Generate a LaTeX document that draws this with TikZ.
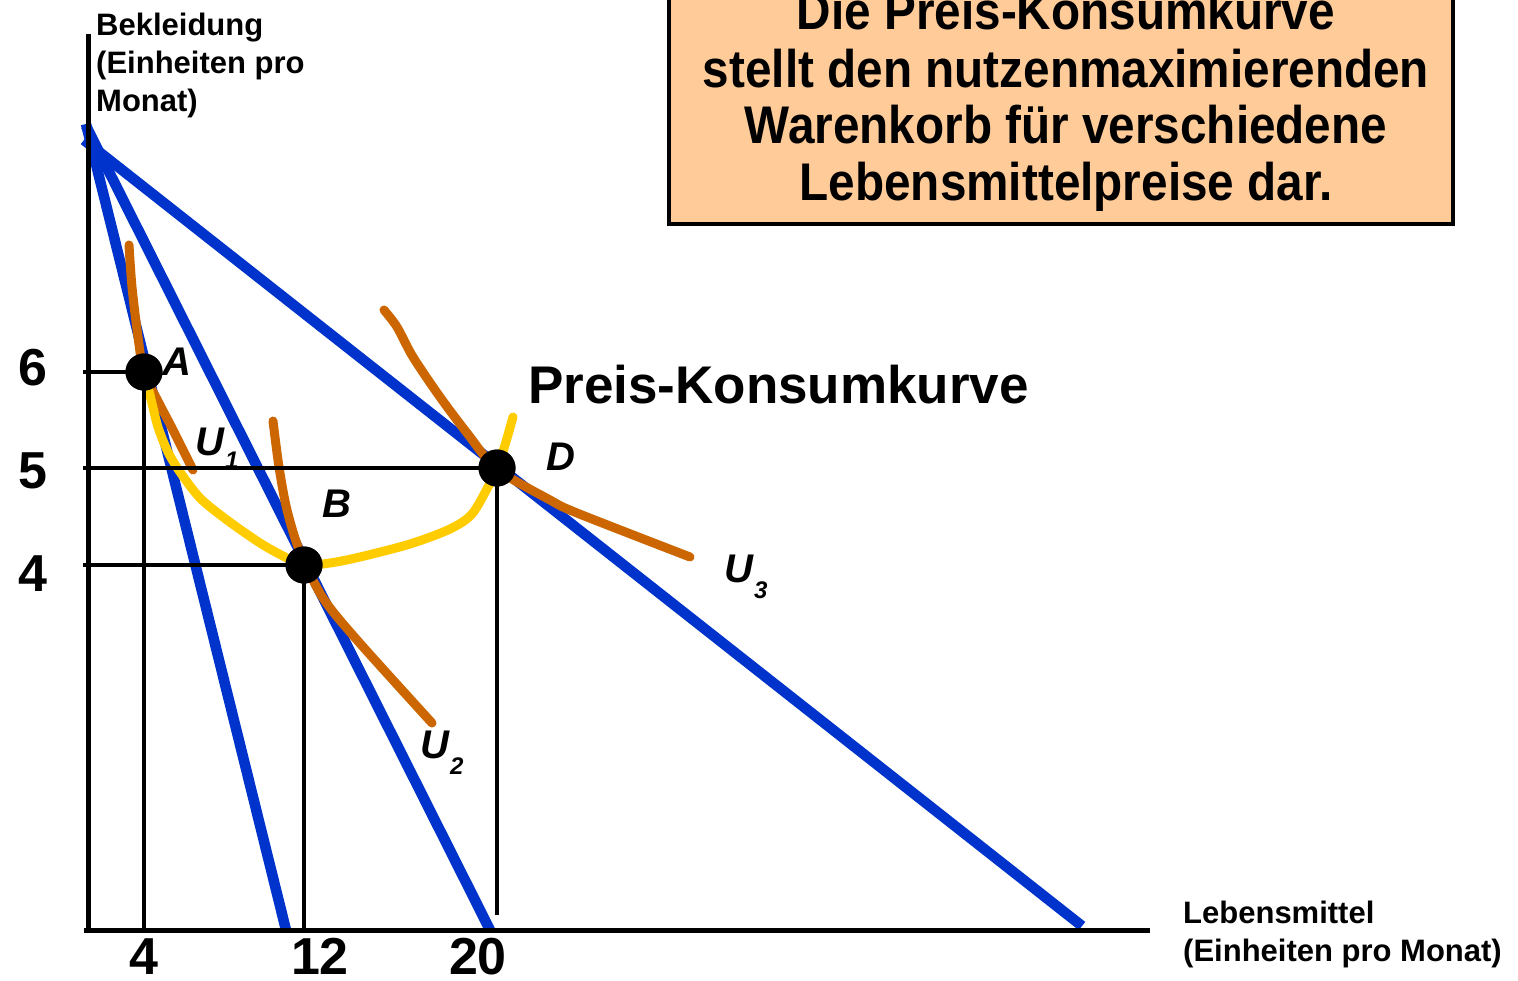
\documentclass[tikz,border=0pt]{standalone}
\usepackage{fontspec}
\setmainfont{Liberation Sans}
\newfontfamily\boxfont[FakeStretch=0.9]{Liberation Sans}
\definecolor{budgetblue}{HTML}{0033CC}
\definecolor{ucolor}{HTML}{CC6600}
\definecolor{pccyellow}{HTML}{FFCC00}
\definecolor{peach}{HTML}{FFCC99}
\begin{document}
\begin{tikzpicture}[x=1pt,y=-1pt,
  budget/.style={draw=budgetblue, line width=10.5pt},
  indiff/.style={draw=ucolor, line width=9pt, line cap=round, line join=round},
  pcc/.style={draw=pccyellow, line width=9pt, line cap=round, line join=round},
  axisline/.style={draw=black, line width=5pt},
  guide/.style={draw=black, line width=4pt},
  dot/.style={circle, fill=black, inner sep=0pt, minimum size=37pt},
  ticklbl/.style={font=\fontsize{52}{52}\selectfont\bfseries, inner sep=0pt},
  ptlbl/.style={font=\fontsize{40}{40}\selectfont\bfseries\itshape, inner sep=0pt},
  axlbl/.style={font=\fontsize{31}{31}\selectfont\bfseries, inner sep=0pt},
  boxtxt/.style={font=\boxfont\fontsize{53}{53}\selectfont\bfseries, inner sep=0pt},
  titletxt/.style={font=\fontsize{53}{53}\selectfont\bfseries, inner sep=0pt}
]
\useasboundingbox (0,0) rectangle (1518,980);
\clip (0,0) rectangle (1518,980);

% explanatory box
\draw[fill=peach, draw=black, line width=3.5pt] (669,-20) rectangle (1453,224);
\node[boxtxt, anchor=base] (t1) at (1066,29) {Die Preis-Konsumkurve};
\node[boxtxt, anchor=base] (t2) at (1066,87) {stellt den nutzenmaximierenden};
\node[boxtxt, anchor=base] (t3) at (1066,143) {Warenkorb für verschiedene};
\node[boxtxt, anchor=base] (t4) at (1066,200) {Lebensmittelpreise dar.};

% coordinates
\coordinate (ytop) at (88,34);
\coordinate (ybot) at (88,932);
\coordinate (xleft) at (84,930);
\coordinate (xright) at (1150,930);
\coordinate (b1s) at (86,124);
\coordinate (b1e) at (286,930);
\coordinate (b2s) at (86,126);
\coordinate (b2e) at (490,930);
\coordinate (b3s) at (84,140);
\coordinate (b3e) at (1082,926);

% budget lines
\draw[budget] (b1s) -- (b1e);
\draw[budget] (b2s) -- (b2e);
\draw[budget] (b3s) -- (b3e);

% indifference curves
\draw[indiff] plot[smooth, tension=0.5] coordinates {(129,245) (132,287) (138,337) (144,372) (160,405) (172,428) (193,470)};
\draw[indiff] plot[smooth, tension=0.5] coordinates {(273,421) (279,467) (287,510) (300,552) (323,598) (357,640) (432,723)};
\draw[indiff] plot[smooth, tension=0.5] coordinates {(384,310) (397,327) (413,357) (440,397) (467,433) (497,469) (550,500) (577,513) (690,557)};

% price-consumption curve
\draw[pcc] plot[smooth, tension=0.5] coordinates {(144,372) (150,395) (158,427) (168,452) (180,472) (200,498) (227,520) (260,543) (285,557) (304,565) (330,563) (360,557) (410,544) (450,529) (472,514) (489,485) (497,469) (505,445) (513,417)};

% axes
\draw[axisline] (ytop) -- (ybot);
\draw[axisline] (xleft) -- (xright);

% points
\node[dot] (A) at (144,372) {};
\node[dot] (B) at (304,565) {};
\node[dot] (D) at (497,468) {};

% guide lines
\coordinate (yA) at (83,372);
\coordinate (yD) at (83,468);
\coordinate (yB) at (83,565);
\coordinate (xA) at (144,930);
\coordinate (xB) at (304,930);
\coordinate (xD) at (497,915);
\draw[guide] (yA) -- (A.center);
\draw[guide] (yD) -- (D.center);
\draw[guide] (yB) -- (B.center);
\draw[guide] (xA) -- (A.center);
\draw[guide] (xB) -- (B.center);
\draw[guide] (xD) -- (D.center);
\node[dot] at (A) {};
\node[dot] at (B) {};
\node[dot] at (D) {};

% tick labels
\node[ticklbl, anchor=base] (y6) at (33,385) {6};
\node[ticklbl, anchor=base] (y5) at (33,488) {5};
\node[ticklbl, anchor=base] (y4) at (33,591) {4};
\node[ticklbl, anchor=base] (x4) at (144,974) {4};
\node[ticklbl, anchor=base] (x12) at (320,974) {12};
\node[ticklbl, anchor=base] (x20) at (478,974) {20};

% point and curve labels
\node[ptlbl, anchor=base west] (lA) at (162,375) {A};
\node[ptlbl, anchor=base west] (lB) at (322,517) {B};
\node[ptlbl, anchor=base west] (lD) at (546,470) {D};
\node[ptlbl, anchor=base west] (lU1) at (195,455) {U\kern1pt\raisebox{-13pt}{\fontsize{24}{24}\selectfont 1}};
\node[ptlbl, anchor=base west] (lU2) at (420,758) {U\kern1pt\raisebox{-16pt}{\fontsize{24}{24}\selectfont 2}};
\node[ptlbl, anchor=base west] (lU3) at (724,582) {U\kern1pt\raisebox{-16pt}{\fontsize{24}{24}\selectfont 3}};

\node[titletxt, anchor=base west] (pkk) at (528,403) {Preis-Konsumkurve};

% axis labels
\node[axlbl, anchor=base west] (yl1) at (96,35) {Bekleidung};
\node[axlbl, anchor=base west] (yl2) at (96,73) {(Einheiten pro};
\node[axlbl, anchor=base west] (yl3) at (96,111) {Monat)};
\node[axlbl, anchor=base west] (xl1) at (1183,923) {Lebensmittel};
\node[axlbl, anchor=base west] (xl2) at (1183,961) {(Einheiten pro Monat)};
\end{tikzpicture}
\end{document}
